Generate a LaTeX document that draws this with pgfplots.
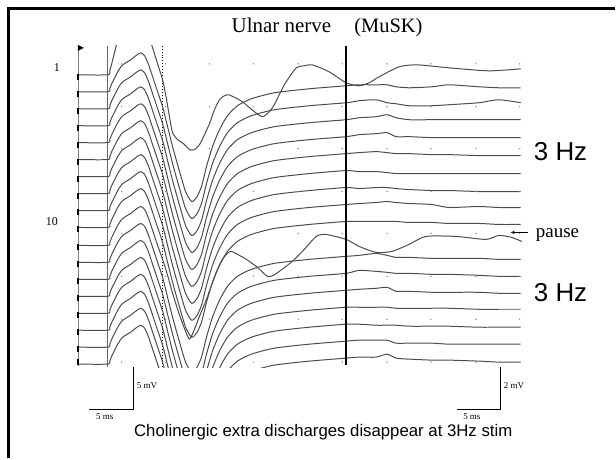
\documentclass[border=0pt]{standalone}
\usepackage{pgfplots}
\usepackage{pgfplotstable}
\pgfplotsset{compat=1.18}
\usetikzlibrary{arrows.meta}
\usepackage{fontspec}
\setmainfont{Liberation Serif}
\newfontfamily\arial{Liberation Sans}
\pgfplotstableread{
x   a2  a3  a4  a5  a6  a7  a8  a9  a10 a12 a13 a14 a15 a16 a17 a18
78  92 109 126 143 160 177 194 211 228 263 280 297 314 331 348 365
108 92 109 126 143 160 177 194 211 228 263 280 297 314 331 348 365
110 89 106 123 140 157 174 191 208 225 260 277 294 311 328 345 362
112 84 101 118 135 152 169 186 203 220 255 272 289 306 323 340 357
115 78 95 112 129 146 163 180 197 214 249 266 283 300 317 334 351
118 72 89 106 123 140 157 174 191 208 243 260 277 294 311 328 345
122 66 83 100 117 134 151 168 185 202 237 254 271 288 305 322 339
126 63 80 97 114 131 148 165 182 199 234 251 268 285 302 319 336
131 60 77 94 111 128 145 162 179 196 231 248 265 282 299 316 333
136 56 73 90 107 124 141 158 175 192 227 244 261 278 295 312 329
141 53 70 87 104 121 138 155 172 189 224 241 258 275 292 309 326
145 56 73 90 107 124 141 158 175 192 227 244 261 278 295 312 329
149 65 82 99 116 133 150 167 184 201 236 253 270 287 304 321 338
153 77 94 111 128 145 162 179 196 213 248 265 282 299 316 333 350
158 92 109 126 143 160 177 194 211 228 263 280 297 314 331 348 365
163 107 124 141 158 175 192 209 226 243 278 295 312 329 346 363 380
168 127 144 161 178 195 212 229 246 263 298 315 332 349 366 383 400
173 147 164 181 198 215 232 249 266 283 318 335 352 369 386 403 420
180 172 189 206 223 240 257 274 291 308 343 360 377 394 411 428 445
186 192 209 226 243 260 277 294 311 328 363 380 397 414 431 448 465
192 202 219 236 253 270 287 304 321 338 373 390 407 424 441 458 475
197 198 215 232 249 266 283 300 317 334 369 386 403 420 437 454 471
202 187 204 221 238 255 272 289 306 323 358 375 392 409 426 443 460
207 167 184 201 218 235 252 269 286 303 338 355 372 389 406 423 440
213 147 164 181 198 215 232 249 266 283 318 335 352 369 386 403 420
220 130 147 164 181 198 215 232 249 266 301 318 335 352 369 386 403
228 116 133 150 167 184 201 218 235 252 287 304 321 338 355 372 389
238 106 123 140 157 174 191 208 225 242 277 294 311 328 345 362 379
252 99 116 133 150 167 184 201 218 235 270 287 304 321 338 355 372
275 93 110 127 144 161 178 195 212 229 264 281 298 315 332 349 366
310 89 106 123 140 157 174 191 208 225 260 277 294 311 328 345 362
347 86 103 120 137 154 171 188 205 222 257 274 291 308 325 342 359
360 85 101 118 135 153 172 189 204 222 256 271 290 308 325 341 358
377 85 100 117 134 152 172 188 203 222 254 272 289 308 326 341 358
388 85 103 115 133 153 173 188 202 222 256 273 288 308 326 341 355
397 87 104 118 137 154 174 189 203 222 258 274 292 309 326 344 359
410 88 106 120 137 154 174 190 204 223 258 274 292 309 327 344 360
433 87 106 120 138 155 174 191 205 223 259 275 293 309 327 344 361
450 85 105 120 138 155 174 191 208 224 259 275 293 309 327 345 361
480 87 103 120 138 156 174 192 207 224 259 276 293 310 328 345 362
500 88 100 120 138 156 174 192 208 225 260 277 294 310 328 345 363
522 88 103 120 138 156 174 192 208 225 260 277 294 310 328 345 363
}\traces
\begin{document}
\begin{tikzpicture}
\begin{axis}[at={(70bp,91bp)}, anchor=south west, scale only axis,
  width=460bp, height=322bp, xmin=70, xmax=530, ymin=46, ymax=368,
  y dir=reverse, hide axis]
% grid dots
\addplot[only marks, mark=*, mark size=0.45bp, color=black!45] coordinates {
(122,64)(166,64)(210,64)(254,64)(299,64)(343,64)(388,64)(432,64)(477,64)(521,64)
(122,107)(166,107)(210,107)(254,107)(299,107)(343,107)(388,107)(432,107)(477,107)(521,107)
(122,149)(166,149)(210,149)(254,149)(299,149)(343,149)(388,149)(432,149)(477,149)(521,149)
(122,192)(166,192)(210,192)(254,192)(299,192)(343,192)(388,192)(432,192)(477,192)(521,192)
(122,234)(166,234)(210,234)(254,234)(299,234)(343,234)(388,234)(432,234)(477,234)(521,234)
(122,277)(166,277)(210,277)(254,277)(299,277)(343,277)(388,277)(432,277)(477,277)(521,277)
(122,320)(166,320)(210,320)(254,320)(299,320)(343,320)(388,320)(432,320)(477,320)(521,320)
(122,363)(166,363)(210,363)(254,363)(299,363)(343,363)(388,363)(432,363)(477,363)(521,363)};
% reference lines
\addplot[black!60, line width=0.9bp] coordinates {(108,46)(108,368)};
\addplot[black, line width=0.9bp, dotted] coordinates {(163,46)(163,368)};
\addplot[black!50, line width=0.6bp] coordinates {(78,50)(78,367)};
\addplot[only marks, mark=|, mark size=3bp, mark options={line width=1.5bp}, black] coordinates {
(78,77)(78,94)(78,111)(78,128)(78,145)(78,162)(78,179)(78,196)(78,213)(78,230)
(78,248)(78,265)(78,282)(78,299)(78,316)(78,333)(78,350)(78,363)};
\fill[black] (axis cs:78,45) -- (axis cs:84,48) -- (axis cs:78,51) -- cycle;
% traces
\pgfplotsinvokeforeach{a2,a3,a4,a5,a6,a7,a8,a9,a10,a12,a13,a14,a15,a16,a17,a18}{
  \addplot[black!70, line width=1bp, line join=round, smooth, tension=0.4] table[x=x, y=#1]{\traces};
}
\addplot[black!70, line width=1bp, line join=round, smooth, tension=0.4] coordinates {
(78,75)(108,75)(110,71)(113,60)(116,48)(119,38)(125,30)(135,26)(142,25)(148,33)(153,48)(158,64)(163,80)(167,100)(170,118)(173,133)(178,140)(184,144)(190,150)(195,150)(200,145)(205,135)(210,124)(215,110)(220,100)(225,96)(229,95)(236,98)(243,102)(255,112)(263,117)(269,113)(275,105)(285,85)(297,68)(305,66)(313,65)(330,72)(347,83)(360,86)(370,83)(380,77)(400,67)(418,65)(450,68)(490,71)(522,69)};
\addplot[black!70, line width=1bp, line join=round, smooth, tension=0.4] coordinates {
(78,246)(108,246)(110,243)(112,238)(115,232)(118,226)(122,220)(126,217)(131,214)(136,210)(141,207)(145,210)(149,219)(153,231)(158,246)(163,260)(168,276)(173,294)(180,316)(186,332)(190,340)(195,330)(200,317)(207,300)(213,283)(218,270)(223,260)(228,254)(232,252)(240,256)(247,260)(258,268)(268,277)(274,276)(280,272)(293,262)(305,250)(317,237)(327,235)(347,240)(360,247)(377,253)(393,252)(410,245)(427,237)(457,237)(487,240)(500,236)(513,238)(523,242)};
\addplot[black, line width=2.2bp] coordinates {(347,46)(347,366)};
\end{axis}
\begin{scope}[shift={(0,459bp)}, x=1bp, y=-1bp]
\path (0,0) rectangle (616,459);
\draw[black, line width=3bp] (8.5,459) -- (8.5,8.5) -- (616,8.5);
\node[anchor=base west, inner sep=0, font=\fontsize{21bp}{24bp}\selectfont] at (232,33) {Ulnar nerve};
\node[anchor=base west, inner sep=0, font=\fontsize{20.5bp}{24bp}\selectfont] at (355,33) {(MuSK)};
\node[inner sep=0, font=\fontsize{12bp}{14bp}\selectfont] at (57,68) {1};
\node[inner sep=0, font=\fontsize{12bp}{14bp}\selectfont] at (52,222) {10};
\node[anchor=west, inner sep=0, font=\arial\fontsize{26bp}{30bp}\selectfont] at (535,152) {3 Hz};
\node[anchor=west, inner sep=0, font=\arial\fontsize{26bp}{30bp}\selectfont] at (535,293) {3 Hz};
\node[anchor=base west, inner sep=0, font=\fontsize{19bp}{22bp}\selectfont] at (537,238) {pause};
\draw[line width=0.7bp, -{Stealth[length=4bp,width=3.5bp]}] (529,233) -- (512,233);
\draw[line width=1bp] (134,368) -- (134,410) -- (89,410);
\draw[line width=1bp] (502,368) -- (502,410) -- (458,410);
\node[anchor=west, inner sep=0, font=\fontsize{9bp}{10bp}\selectfont] at (137,387) {5 mV};
\node[inner sep=0, font=\fontsize{9bp}{10bp}\selectfont] at (105,418) {5 ms};
\node[anchor=west, inner sep=0, font=\fontsize{9bp}{10bp}\selectfont] at (505,387) {2 mV};
\node[inner sep=0, font=\fontsize{9bp}{10bp}\selectfont] at (473,418) {5 ms};
\node[inner sep=0, font=\arial\fontsize{16.8bp}{20bp}\selectfont] at (324,433) {Cholinergic extra discharges disappear at 3Hz stim};
\end{scope}
\end{tikzpicture}
\end{document}
